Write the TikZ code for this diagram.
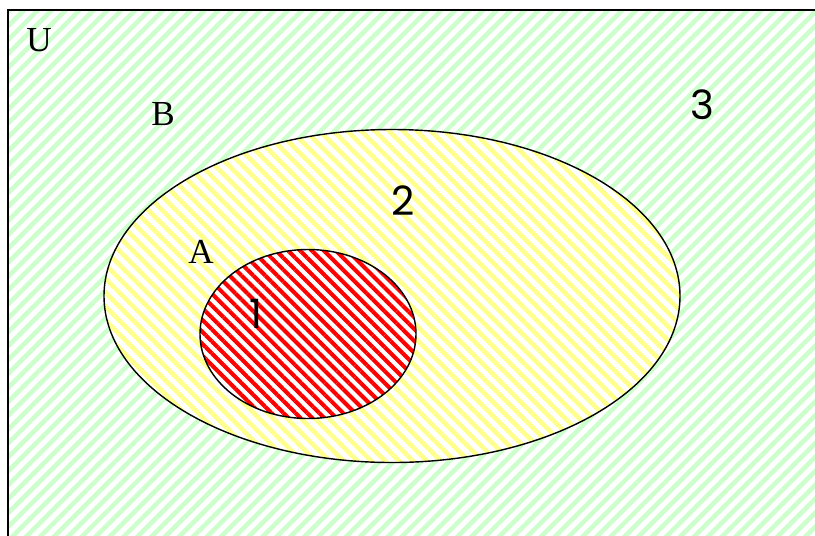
\documentclass[tikz,border=0pt]{standalone}
\usepackage{fontspec}
\setmainfont{Liberation Serif}
\newfontfamily\digitfont{Poppins}
\usepackage{tikz}
\usetikzlibrary{shapes.geometric,patterns.meta}
\definecolor{hatchgreen}{rgb}{0.8, 1.0, 0.8}
\definecolor{hatchyellow}{rgb}{1.0, 1.0, 0.55}
\definecolor{hatchred}{rgb}{1.0, 0.0, 0.0}

\begin{document}
\begin{tikzpicture}[x=0.02cm, y=-0.02cm,
    setname/.style={font=\fontsize{20}{22}\selectfont},
    regionno/.style={font=\digitfont\fontsize{23}{25}\selectfont}]
    \useasboundingbox (0,0) rectangle (815,535);
    \clip (0,0) rectangle (815,535);

    % universe
    \fill[white] (0,0) rectangle (815,535);
    \draw[line width=1.5pt,
        pattern={Lines[angle=45, distance=5.6pt, line width=2.6pt]},
        pattern color=hatchgreen] (8,10) rectangle (840,560);

    % B and A
    \node(setB)[ellipse, fill=white, inner sep=0pt,
        minimum width=11.52cm, minimum height=6.66cm] at (392,296) {};
    \node[ellipse, inner sep=0pt, minimum width=11.52cm, minimum height=6.66cm,
        pattern={Lines[angle=-45, distance=5.6pt, line width=2.6pt]},
        pattern color=hatchyellow] at (setB.center) {};
    \draw[line width=0.8pt] (setB.center) ellipse [x radius=288, y radius=166.5];

    \node(setA)[ellipse, fill=white, inner sep=0pt,
        minimum width=4.32cm, minimum height=3.38cm] at (308,334) {};
    \node[ellipse, inner sep=0pt, minimum width=4.32cm, minimum height=3.38cm,
        pattern={Lines[angle=-45, distance=4.8pt, line width=2.3pt]},
        pattern color=hatchred] at (setA.center) {};
    \draw[line width=0.8pt] (setA.center) ellipse [x radius=108, y radius=84.5];

    % labels
    \node(lblU)[setname] at (39,40) {U};
    \node(lblB)[setname] at (163,114) {B};
    \node(lblA)[setname] at (201,252) {A};
    \node(no1)[regionno] at (256,314) {1};
    \node(no2)[regionno] at (403,201) {2};
    \node(no3)[regionno] at (702,105) {3};
\end{tikzpicture}
\end{document}
